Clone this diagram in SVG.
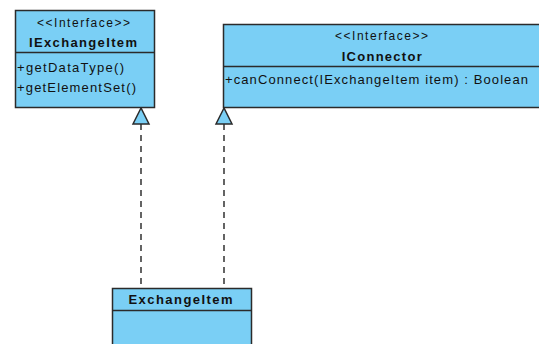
<svg xmlns="http://www.w3.org/2000/svg" width="539" height="344" viewBox="0 0 539 344">
<style>
.box{fill:#7acff5;stroke:#2b2b2b;stroke-width:1.5}
.sep{stroke:#2b2b2b;stroke-width:1.5}
.t{font-family:"Liberation Sans",Arial,sans-serif;font-size:13px;fill:#111}
.st{font-family:"Liberation Sans",Arial,sans-serif;font-size:12px;fill:#111;text-anchor:middle}
.b{font-family:"Liberation Sans",Arial,sans-serif;font-size:13px;font-weight:bold;fill:#111;text-anchor:middle}
.dash{stroke:#111;stroke-width:1.3;stroke-dasharray:6,5;fill:none}
.tri{fill:#7acff5;stroke:#2b2b2b;stroke-width:1.5}
</style>
<rect width="539" height="344" fill="#fff"/>
<g id="connectors">
<line class="dash" x1="141" y1="124" x2="141" y2="288"/>
<line class="dash" x1="224" y1="124" x2="224" y2="288"/>
<polygon class="tri" points="141,108 133,124 149,124"/>
<polygon class="tri" points="224,108 216,124 232,124"/>
</g>
<g id="IExchangeItem">
<rect class="box" x="15.5" y="10.5" width="139" height="97"/>
<line class="sep" x1="15.5" y1="52.5" x2="154.5" y2="52.5"/>
<text class="st" x="83.5" y="26.5" textLength="93">&lt;&lt;Interface&gt;&gt;</text>
<text class="b" x="83" y="46.5" textLength="108">IExchangeItem</text>
<text class="t" x="17" y="71.5" textLength="107">+getDataType()</text>
<text class="t" x="17" y="91.5" textLength="119">+getElementSet()</text>
</g>
<g id="IConnector">
<rect class="box" x="223.5" y="24.5" width="320" height="83"/>
<line class="sep" x1="223.5" y1="66.5" x2="543" y2="66.5"/>
<text class="st" x="381.5" y="39.5" textLength="93">&lt;&lt;Interface&gt;&gt;</text>
<text class="b" x="381.7" y="61" textLength="80">IConnector</text>
<text class="t" x="225" y="83.5" textLength="303">+canConnect(IExchangeItem item) : Boolean</text>
</g>
<g id="ExchangeItem">
<rect class="box" x="112.5" y="288.5" width="139" height="70"/>
<line class="sep" x1="112.5" y1="310.5" x2="251.5" y2="310.5"/>
<text class="b" x="180.5" y="304" textLength="104">ExchangeItem</text>
</g>
</svg>
